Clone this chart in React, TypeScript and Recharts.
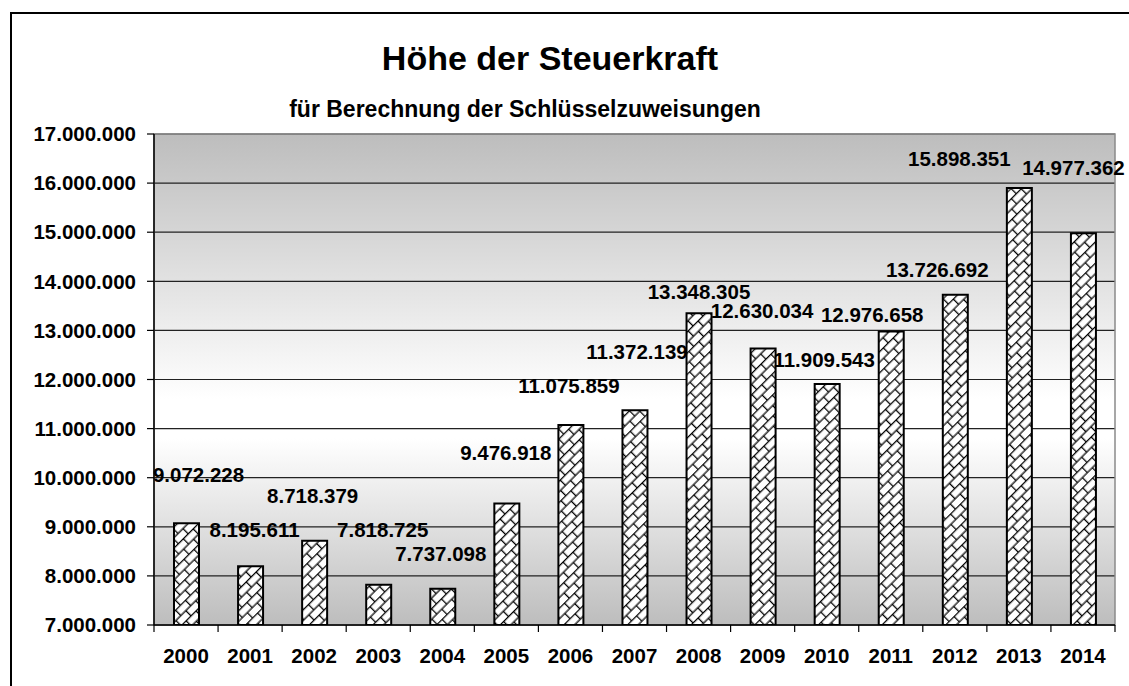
import {
  Bar,
  BarChart,
  CartesianGrid,
  LabelList,
  ReferenceArea,
  XAxis,
  YAxis,
} from "recharts";

const years = [
  "2000", "2001", "2002", "2003", "2004", "2005", "2006", "2007",
  "2008", "2009", "2010", "2011", "2012", "2013", "2014",
];

const steuerkraft = [
  9072228, 8195611, 8718379, 7818725, 7737098, 9476918, 11075859, 11372139,
  13348305, 12630034, 11909543, 12976658, 13726692, 15898351, 14977362,
];

const yTicks = [
  7000000, 8000000, 9000000, 10000000, 11000000, 12000000,
  13000000, 14000000, 15000000, 16000000, 17000000,
];

// the labels were pushed around by hand in the original, offsets from bar top centre
const labelNudge: [number, number][] = [
  [12, -49], [4, -37], [-2, -45], [4, -55], [-2, -35], [-1, -51], [-2, -39],
  [2, -59], [0, -22], [-1, -38], [-3, -24], [-19, -17], [-18, -25], [-60, -29],
  [-10, -66],
];

const data = years.map((year, i) => ({ year, value: steuerkraft[i] }));

const FONT = "'Liberation Sans', Arial, sans-serif";
const FS = 20.5;
const W = 1129;
const H = 686;
const PLOT_LEFT = 154;
const PLOT_RIGHT = 1115;

const fmt = (v: number) =>
  String(Math.round(v)).replace(/\B(?=(\d{3})+(?!\d))/g, ".");

function YearTick(props: any) {
  const { x, y, payload, index } = props;
  const band = (PLOT_RIGHT - PLOT_LEFT) / years.length;
  return (
    <g>
      <line x1={x - band / 2} x2={x - band / 2} y1={y} y2={y + 7} stroke="#000" strokeWidth={1.2} />
      {index === years.length - 1 && (
        <line x1={x + band / 2} x2={x + band / 2} y1={y} y2={y + 7} stroke="#000" strokeWidth={1.2} />
      )}
      <text
        x={x}
        y={y + 38}
        textAnchor="middle"
        fontFamily={FONT}
        fontSize={FS}
        fontWeight="bold"
        fill="#000"
      >
        {payload.value}
      </text>
    </g>
  );
}

function ValueLabel(props: any) {
  const { x, y, width, value, index } = props;
  const [dx, dy] = labelNudge[index] ?? [0, -20];
  return (
    <text
      x={x + width / 2 + dx}
      y={y + dy + FS * 0.358}
      textAnchor="middle"
      fontFamily={FONT}
      fontSize={FS}
      fontWeight="bold"
      fill="#000"
    >
      {fmt(value)}
    </text>
  );
}

export default function App() {
  return (
    <div
      style={{
        position: "absolute",
        left: 0,
        top: 0,
        width: W,
        height: H,
        overflow: "hidden",
        background: "#fff",
      }}
    >
      <div
        style={{
          position: "absolute",
          left: 10,
          top: 12,
          width: 1300,
          height: 800,
          borderLeft: "2px solid #000",
          borderTop: "2px solid #000",
        }}
      />
      <div style={{ position: "absolute", left: 0, top: 0 }}>
        <BarChart
          width={W}
          height={H}
          data={data}
          margin={{ top: 134, right: W - PLOT_RIGHT, bottom: 21, left: 10 }}
          style={{ overflow: "visible" }}
        >
          <defs>
            <linearGradient id="plotBg" x1="0" y1="0" x2="0" y2="1">
              <stop offset="0%" stopColor="#bdbdbd" />
              <stop offset="54%" stopColor="#ffffff" />
              <stop offset="62%" stopColor="#ffffff" />
              <stop offset="100%" stopColor="#bdbdbd" />
            </linearGradient>
            <pattern
              id="brickHatch"
              width={14}
              height={15}
              patternUnits="userSpaceOnUse"
              patternTransform="rotate(-45)"
            >
              <rect width={14} height={15} fill="#fff" />
              <path
                d="M0 0.6 H14 M0 8.1 H14 M0.6 0.6 V8.1 M7.6 8.1 V15"
                stroke="#000"
                strokeWidth={1.3}
                fill="none"
              />
            </pattern>
          </defs>
          <CartesianGrid
            vertical={false}
            stroke="#222"
            strokeWidth={1.2}
            fill="url(#plotBg)"
            fillOpacity={1}
          />
          <ReferenceArea
            y1={7000000}
            y2={17000000}
            fill="none"
            stroke="#8a8a8a"
            strokeWidth={1.5}
          />
          <XAxis
            dataKey="year"
            height={40}
            interval={0}
            tickLine={false}
            tickSize={0}
            tickMargin={0}
            axisLine={{ stroke: "#000", strokeWidth: 1.5 }}
            tick={<YearTick />}
          />
          <YAxis
            width={144}
            domain={[7000000, 17000000]}
            ticks={yTicks}
            interval={0}
            allowDataOverflow
            tickFormatter={fmt}
            tickSize={7}
            tickMargin={11}
            tickLine={{ stroke: "#000", strokeWidth: 1.2 }}
            axisLine={{ stroke: "#000", strokeWidth: 1.5 }}
            tick={{ fontFamily: FONT, fontSize: FS, fontWeight: "bold", fill: "#000" }}
          />
          <Bar
            dataKey="value"
            barSize={25}
            fill="url(#brickHatch)"
            stroke="#000"
            strokeWidth={2}
            isAnimationActive={false}
          >
            <LabelList dataKey="value" content={<ValueLabel />} />
          </Bar>
        </BarChart>
      </div>
      <svg
        width={W}
        height={H}
        style={{ position: "absolute", left: 0, top: 0, pointerEvents: "none" }}
      >
        <text
          x={550}
          y={70}
          textAnchor="middle"
          fontFamily={FONT}
          fontSize={34}
          fontWeight="bold"
          fill="#000"
        >
          Höhe der Steuerkraft
        </text>
        <text
          x={525}
          y={117}
          textAnchor="middle"
          fontFamily={FONT}
          fontSize={23}
          fontWeight="bold"
          fill="#000"
        >
          für Berechnung der Schlüsselzuweisungen
        </text>
      </svg>
    </div>
  );
}
